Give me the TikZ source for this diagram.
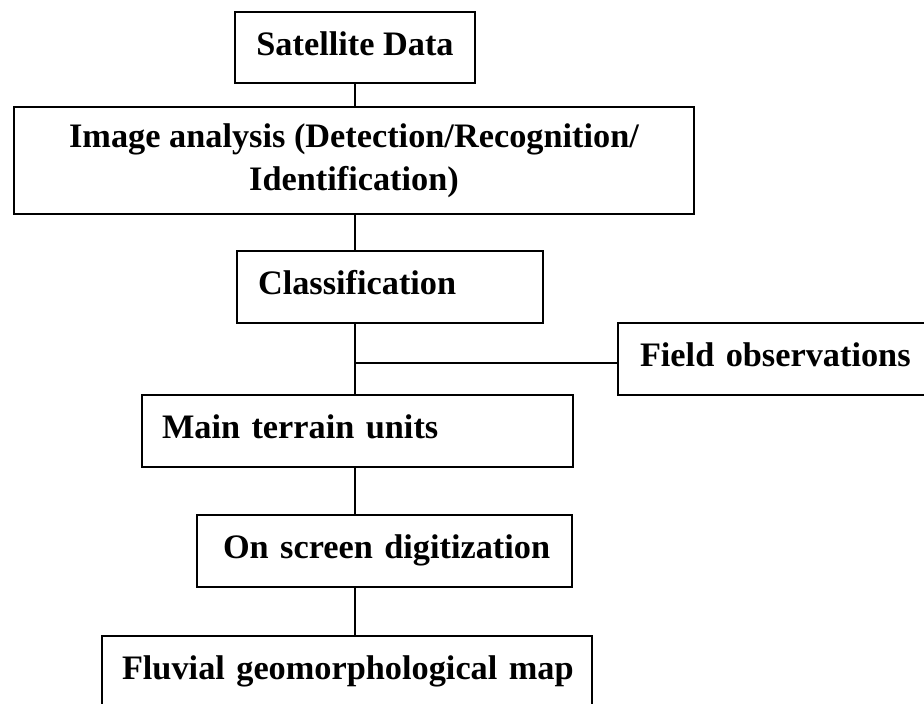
\documentclass[tikz,border=0pt]{standalone}
\usepackage{fontspec}
\setmainfont{Liberation Serif}
\begin{document}
\begin{tikzpicture}[x=1pt,y=-1pt,
  box/.style={draw, line width=1.6pt, inner ysep=0pt,
    font=\bfseries\fontsize{34.3}{43}\selectfont},
  oneline/.style={text height=23.3pt, text depth=7.5pt},
  link/.style={line width=1.6pt}]
\useasboundingbox (0,0) rectangle (924,704);

% flow boxes, placed by centre with explicit sizes
\node[box, oneline, inner xsep=0pt, minimum width=240, minimum height=71]
  (sat) at (355,47.5) {Satellite Data};
\node[box, inner xsep=0pt, minimum width=680, minimum height=107, align=center]
  (img) at (354,160.5) {Image analysis (Detection/Recognition/\\Identification)};
\node[box, oneline, inner xsep=21pt, minimum width=306, minimum height=72,
  text width=264, align=left] (cls) at (390,287) {\mbox{Classification}};
\node[box, oneline, inner xsep=22pt, minimum width=312, minimum height=72,
  text width=268, align=left] (fld) at (774,359) {\mbox{Field observations}};
\node[box, oneline, inner xsep=20pt, minimum width=431, minimum height=72,
  text width=391, align=left] (main) at (357.5,431) {\mbox{Main terrain units}};
\node[box, oneline, inner xsep=26pt, minimum width=375, minimum height=72,
  text width=323, align=left] (dig) at (384.5,551) {\mbox{On screen digitization}};
\node[box, oneline, inner xsep=20pt, minimum width=490, minimum height=72,
  text width=450, align=left] (fluv) at (347,672) {\mbox{Fluvial geomorphological map}};

% common vertical trunk and the side branch to the field box
\coordinate (tk) at (355,0);
\coordinate (br) at (355,363);

\draw[link] (sat.south -| tk) -- (img.north -| tk);
\draw[link] (img.south -| tk) -- (cls.north -| tk);
\draw[link] (cls.south -| tk) -- (main.north -| tk);
\draw[link] (br) -- (br -| fld.west);
\draw[link] (main.south -| tk) -- (dig.north -| tk);
\draw[link] (dig.south -| tk) -- (fluv.north -| tk);
\end{tikzpicture}
\end{document}
